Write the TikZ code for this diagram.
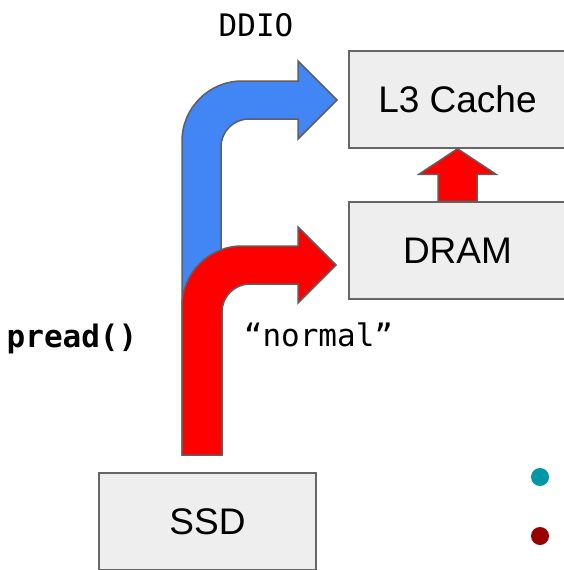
\documentclass[tikz,border=0pt]{standalone}
\usepackage{fontspec}
\setmainfont{Liberation Sans}
\newfontfamily\monofont{DejaVu Sans Mono}
\usetikzlibrary{calc}
\definecolor{boxfill}{HTML}{EEEEEE}
\definecolor{boxline}{HTML}{666666}
\definecolor{arrline}{HTML}{5F5F5F}
\definecolor{gblue}{HTML}{4285F4}
\definecolor{gred}{HTML}{FF0000}
\definecolor{gteal}{HTML}{0097A7}
\definecolor{gdred}{HTML}{990000}
\tikzset{
  memboxstyle/.style={draw=boxline, fill=boxfill, line width=1.5pt, minimum width=217pt, minimum height=97pt, inner sep=0pt, font=\fontsize{37}{44}\selectfont},
  arrowshape/.style={draw=arrline, line width=1.5pt, line join=miter},
  monolabel/.style={font=\monofont\fontsize{31}{36}\selectfont, anchor=base, inner sep=0pt},
  dotstyle/.style={circle, inner sep=0pt, minimum size=18pt}
}
\begin{document}
\begin{tikzpicture}[x=1pt, y=-1pt]
\clip (0,0) rectangle (564,570);
\fill[white] (0,0) rectangle (564,570);
% boxes
\node[memboxstyle] (l3) at (457.5,99.5) {L3 Cache};
\node[memboxstyle] (dram) at (457.5,250.5) {DRAM};
\node[memboxstyle] (ssd) at (207.5,521.5) {SSD};
% up arrow from DRAM to L3
\draw[arrowshape, fill=gred]
  ($(dram.north)+(-19.5pt,0)$) -- ($(dram.north)+(-19.5pt,27pt)$) -- ($(dram.north)+(-38.5pt,27pt)$)
  -- (l3.south) -- ($(dram.north)+(38.5pt,27pt)$) -- ($(dram.north)+(19.5pt,27pt)$)
  -- ($(dram.north)+(19.5pt,0)$) -- cycle;
% blue DDIO arrow
\coordinate (bstart) at (201.5,455);
\draw[arrowshape, fill=gblue]
  (182,455) -- (182,141) .. controls (182,108) and (209,81) .. (242,81)
  -- (298,81) -- (298,61) -- (337,100) -- (298,139) -- (298,119)
  -- (249,119) .. controls (233.5,119) and (221,131.5) .. (221,147)
  -- (221,455) -- cycle;
% red normal arrow
\draw[arrowshape, fill=gred]
  (182,455) -- (182,306) .. controls (182,273) and (209,246) .. (242,246)
  -- (298,246) -- (298,227) -- (336,265) -- (298,303) -- (298,284)
  -- (250,284) .. controls (234.5,284) and (222,296.5) .. (222,312)
  -- (222,455) -- cycle;
% labels
\node[monolabel] (ddio) at (256,36) {DDIO};
\node[monolabel, font=\monofont\bfseries\fontsize{31}{36}\selectfont] (pread) at (72,347) {pread()};
\node[monolabel] (normal) at (318.5,346) {“normal”};
% dots
\node[dotstyle, fill=gteal] (dot1) at (540,477) {};
\node[dotstyle, fill=gdred] (dot2) at (540,536) {};
\end{tikzpicture}
\end{document}
